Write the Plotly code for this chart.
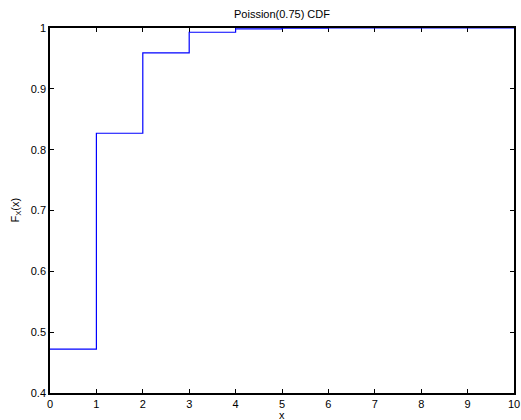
import plotly.graph_objects as go

x_vals = [0, 1, 2, 3, 4, 5, 6, 7, 8, 9, 10]
cdf_vals = [0.472, 0.827, 0.959, 0.993, 0.9987, 0.9998, 1.0, 1.0, 1.0, 1.0, 1.0]
x_ticks = [0, 1, 2, 3, 4, 5, 6, 7, 8, 9, 10]
y_ticks = [0.4, 0.5, 0.6, 0.7, 0.8, 0.9, 1.0]
y_tick_labels = ["0.4", "0.5", "0.6", "0.7", "0.8", "0.9", "1"]

W, H = 521, 420
L, R, T, B = 50, 7, 28, 27
FS = 11

fig = go.Figure()
fig.add_trace(go.Scatter(
    x=x_vals, y=cdf_vals, mode="lines", line_shape="hv",
    line=dict(color="#0000ff", width=1.2), showlegend=False,
))

font = dict(family="Liberation Sans, Arial, sans-serif", size=FS, color="black")
fig.update_layout(
    width=W, height=H,
    margin=dict(l=L, r=R, t=T, b=B, autoexpand=False),
    paper_bgcolor="white", plot_bgcolor="white",
    font=font,
    title=dict(text="Poission(0.75) CDF", x=(L + (W - L - R) / 2) / W, xanchor="center",
               y=1 - 14 / H, yanchor="middle", font=dict(size=FS)),
    xaxis=dict(range=[0, 10], tickvals=x_ticks, ticks="inside", ticklen=4,
               tickcolor="black", showline=True, linecolor="black", linewidth=1.5,
               mirror="ticks", showgrid=False, zeroline=False, layer="below traces",
               automargin=False, tickfont=dict(size=FS)),
    yaxis=dict(range=[0.4, 1.0], tickvals=y_ticks, ticktext=y_tick_labels,
               ticks="inside", ticklen=4, tickcolor="black", showline=True,
               linecolor="black", linewidth=1.5, mirror="ticks", showgrid=False,
               zeroline=False, layer="below traces", automargin=False,
               tickfont=dict(size=FS)),
    annotations=[
        dict(text="x", xref="paper", yref="paper", x=0.5, y=-(415 - (H - B)) / (H - T - B),
             xanchor="center", yanchor="middle", showarrow=False, font=dict(size=FS)),
        dict(text="F<sub>X</sub>(x)", xref="paper", yref="paper",
             x=-(L - 15) / (W - L - R), y=0.5, textangle=-90,
             xanchor="center", yanchor="middle", showarrow=False, font=dict(size=FS)),
    ],
)

fig.write_html("out.html", config={"displayModeBar": False},
               post_script="document.body.style.margin='0';document.body.style.overflow='hidden';")
